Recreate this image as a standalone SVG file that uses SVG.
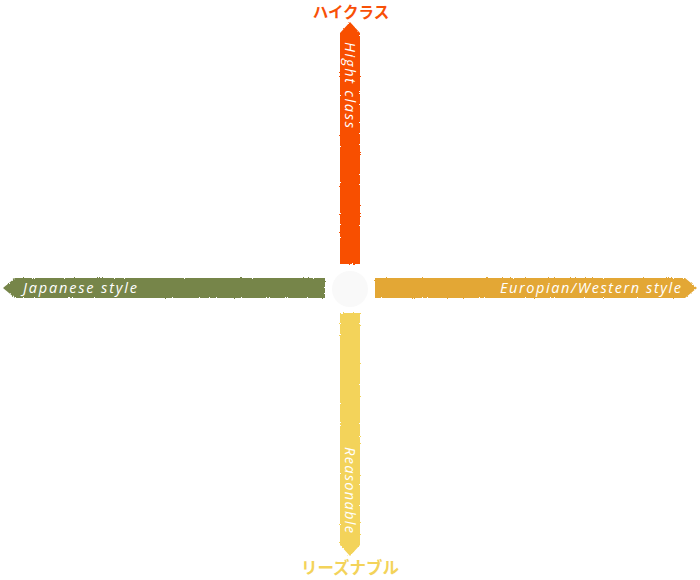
<svg xmlns="http://www.w3.org/2000/svg" width="700" height="580" viewBox="0 0 700 580">
  <defs>
    <filter id="rough" x="-5%" y="-5%" width="110%" height="110%">
      <feTurbulence type="fractalNoise" baseFrequency="0.9" numOctaves="2" seed="3" result="n"/>
      <feDisplacementMap in="SourceGraphic" in2="n" scale="2.5" xChannelSelector="R" yChannelSelector="G"/>
    </filter>
  </defs>
  <style>
    .lbl { font-family: "Open Sans", "Liberation Sans", sans-serif; font-style: italic; font-size: 14.5px; fill: #ffffff; }
    .jp { font-family: "Noto Sans CJK JP", "Noto Sans", sans-serif; font-weight: bold; text-anchor: middle; }
  </style>
  <rect width="700" height="580" fill="#ffffff"/>
  <g id="connectors">
    <g id="axis-top">
      <path d="M340,264 L340,33 L350,22 L360,33 L360,264 Z" fill="#f85006" filter="url(#rough)"/>
    </g>
    <g id="axis-bottom">
      <path d="M340,313 L360,313 L360,545 L350,556 L340,545 Z" fill="#f3d35a" filter="url(#rough)"/>
    </g>
    <g id="axis-left">
      <path d="M325,278 L325,298 L15,298 L3,288 L15,278 Z" fill="#76854a" filter="url(#rough)"/>
    </g>
    <g id="axis-right">
      <path d="M375,278 L685,278 L697,288 L685,298 L375,298 Z" fill="#e3a735" filter="url(#rough)"/>
    </g>
  </g>
  <g id="center">
    <circle cx="350" cy="289" r="18" fill="#f9f9f9"/>
  </g>
  <g id="node-high">
    <text class="jp" x="351" y="18" font-size="15.5" fill="#f85006">ハイクラス</text>
    <text class="lbl" transform="translate(345,42) rotate(90)" x="0" y="0" textLength="86" lengthAdjust="spacing">Hight class</text>
  </g>
  <g id="node-reasonable">
    <text class="jp" x="350" y="574" font-size="16.5" fill="#f3d35a">リーズナブル</text>
    <text class="lbl" transform="translate(345,447) rotate(90)" x="0" y="0" textLength="86" lengthAdjust="spacing">Reasonable</text>
  </g>
  <g id="node-japanese">
    <text class="lbl" x="23" y="293" textLength="114" lengthAdjust="spacing">Japanese style</text>
  </g>
  <g id="node-western">
    <text class="lbl" x="500" y="293" textLength="181" lengthAdjust="spacing">Europian/Western style</text>
  </g>
</svg>
